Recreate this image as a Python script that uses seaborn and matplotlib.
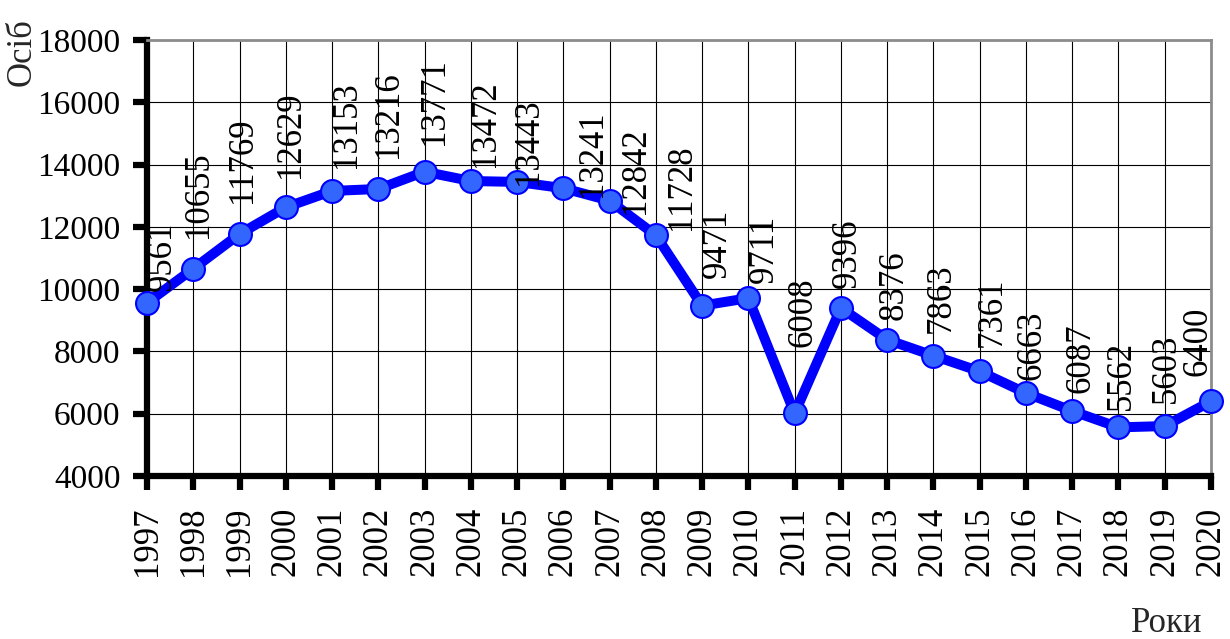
import matplotlib
matplotlib.use("Agg")
import matplotlib.pyplot as plt
import seaborn as sns
import pandas as pd

years = list(range(1997, 2021))
values = [9561, 10655, 11769, 12629, 13153, 13216, 13771, 13472, 13443, 13241,
          12842, 11728, 9471, 9711, 6008, 9396, 8376, 7863, 7361, 6663,
          6087, 5562, 5603, 6400]
y_ticks = [4000, 6000, 8000, 10000, 12000, 14000, 16000, 18000]
y_label = "Осіб"
x_label = "Роки"

# label offsets (pixels) relative to each point
label_dx = [15, 5, 3, 5, 14, 10, 10, 15, 11, 29, 26, 26, 15, 16, 8, 6, 7, 8, 13, 6, 9, 3, 2, -13]
label_dy = [12, 31, 31, 29, 23, 31, 27, 14, -3, -9, -13, 5, 28, 15, 66, 20, 20, 23, 24, 13, 18, 17, 23, 25]

sns.set_theme(style="white")
plt.rcParams['font.family'] = ['Liberation Serif', 'DejaVu Serif']

df = pd.DataFrame({"year": years, "value": values})

fig = plt.figure(figsize=(12.3, 6.39), dpi=100)
ax = fig.add_axes([147/1230, 1-476/639, (1211-147)/1230, (476-40)/639])

sns.lineplot(data=df, x="year", y="value", ax=ax, color="#0000FF", linewidth=7.2,
             marker="o", markersize=16.5, markerfacecolor="#3366FF",
             markeredgecolor="#0000FF", markeredgewidth=1.5, clip_on=False, zorder=5)

fs = 25
ax.set_xlim(1997, 2020)
ax.set_ylim(4000, 18000)
ax.set_xticks(years)
ax.set_xticklabels([str(y) for y in years], rotation=90, fontsize=fs)
ax.set_yticks(y_ticks)
ax.set_yticklabels([str(v) for v in y_ticks], fontsize=24)
ax.set_xlabel("")
ax.set_ylabel("")

ax.grid(True, color="black", linewidth=0.8)
ax.set_axisbelow(True)

for side in ["left", "bottom"]:
    ax.spines[side].set_color("black")
    ax.spines[side].set_linewidth(4.5)
for side in ["top", "right"]:
    ax.spines[side].set_color("#8c8c8c")
    ax.spines[side].set_linewidth(2)
    ax.spines[side].set_visible(True)

ax.tick_params(axis="y", direction="out", length=10, width=4.5, color="black", pad=9, labelcolor="black")
ax.tick_params(axis="x", direction="out", length=10, width=4.5, color="black", pad=12, labelcolor="black")
ax.tick_params(left=True, bottom=True)

for x, v, dx, dy in zip(years, values, label_dx, label_dy):
    ax.annotate(str(v), xy=(x, v), xytext=(dx, dy), textcoords="offset pixels",
                rotation=90, ha="center", va="bottom", fontsize=fs, color="black",
                zorder=6, annotation_clip=False)

fig.text(22/1230, 1-52/639, y_label, rotation=90, ha="center", va="center", fontsize=fs)
fig.text(1167/1230, 1-624/639, x_label, ha="center", va="center", fontsize=fs)

fig.savefig("out.png", dpi=100)
